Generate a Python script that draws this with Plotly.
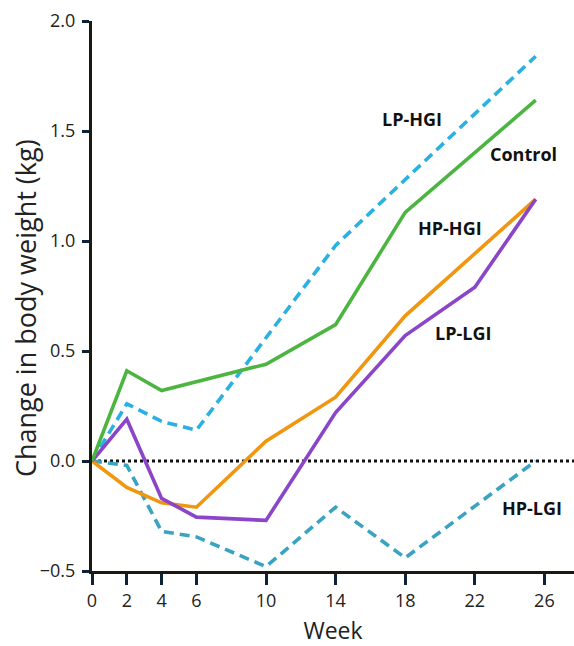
import plotly.graph_objects as go

# Weeks at which each group was weighed (last visit plotted at 25.5)
weeks_control = [0, 2, 4, 10, 14, 18, 25.5]
control = [0.0, 0.41, 0.32, 0.44, 0.62, 1.13, 1.64]

weeks_lp_hgi = [0, 2, 4, 6, 14, 25.5]
lp_hgi = [0.0, 0.26, 0.18, 0.14, 0.98, 1.84]

weeks_hp_hgi = [0, 2, 4, 6, 10, 14, 18, 25.5]
hp_hgi = [0.0, -0.12, -0.19, -0.21, 0.09, 0.29, 0.66, 1.19]

weeks_lp_lgi = [0, 2, 4, 6, 10, 14, 18, 22, 25.5]
lp_lgi = [0.0, 0.19, -0.17, -0.255, -0.27, 0.22, 0.57, 0.79, 1.19]

weeks_hp_lgi = [0, 2, 4, 6, 10, 14, 18, 25.5]
hp_lgi = [0.0, -0.02, -0.32, -0.345, -0.48, -0.21, -0.44, 0.0]

x_ticks = [0, 2, 4, 6, 10, 14, 18, 22, 26]
y_ticks = [-0.5, 0.0, 0.5, 1.0, 1.5, 2.0]
y_tick_text = ["\u22120.5", "0.0", "0.5", "1.0", "1.5", "2.0"]

# Group label text and anchor (week, kg)
labels = ["LP-HGI", "Control", "HP-HGI", "LP-LGI", "HP-LGI"]
label_x = [18.4, 24.8, 20.6, 21.3, 25.3]
label_y = [1.555, 1.395, 1.06, 0.58, -0.215]

FONT = "'Open Sans', sans-serif"

fig = go.Figure()

# zero reference line
fig.add_trace(go.Scatter(x=[0, 27.7], y=[0, 0], mode="lines",
                         line=dict(color="#111111", width=3, dash="dot"),
                         hoverinfo="skip", showlegend=False))

series = [
    (weeks_hp_lgi, hp_lgi, "#3aa3c2", "10px,6px", "HP-LGI"),
    (weeks_lp_hgi, lp_hgi, "#2bb0e3", "10px,6px", "LP-HGI"),
    (weeks_hp_hgi, hp_hgi, "#f0960f", "solid", "HP-HGI"),
    (weeks_lp_lgi, lp_lgi, "#8a45c8", "solid", "LP-LGI"),
    (weeks_control, control, "#4cb540", "solid", "Control"),
]
for xs, ys, color, dash, name in series:
    fig.add_trace(go.Scatter(x=xs, y=ys, mode="lines", name=name,
                             line=dict(color=color, width=3.6, dash=dash),
                             showlegend=False))

for txt, lx, ly in zip(labels, label_x, label_y):
    fig.add_annotation(x=lx, y=ly, text="<b>" + txt + "</b>", showarrow=False,
                       font=dict(family=FONT, size=18, color="#111111"),
                       xanchor="center", yanchor="middle")

# y-axis title, placed as rotated text beside the axis
fig.add_annotation(xref="paper", yref="paper", x=-0.139, y=0.478,
                   text="Change in body weight (kg)", textangle=-90, showarrow=False,
                   font=dict(family=FONT, size=27, color="#222222"),
                   xanchor="center", yanchor="middle")

fig.update_layout(
    width=574, height=646,
    margin=dict(l=92, r=0, t=21, b=75),
    paper_bgcolor="white", plot_bgcolor="white",
    font=dict(family=FONT, color="#222222"),
)
fig.update_xaxes(range=[0, 27.7], tickvals=x_ticks, ticktext=[str(v) for v in x_ticks],
                 showgrid=False, zeroline=False, showline=True, linecolor="#1a1a10",
                 linewidth=3, ticks="outside", ticklen=11, tickwidth=3, tickcolor="#0d2238",
                 tickfont=dict(size=18, family=FONT, color="#222222"),
                 title=dict(text="Week", font=dict(size=23, family=FONT, color="#222222"),
                            standoff=13))
fig.update_yaxes(range=[-0.5, 2.0], tickvals=y_ticks, ticktext=y_tick_text,
                 showgrid=False, zeroline=False, showline=True, linecolor="#1a1a10",
                 linewidth=3, ticks="outside", ticklen=7, tickwidth=3, tickcolor="#0d2238",
                 ticklabelstandoff=3,
                 tickfont=dict(size=18, family=FONT, color="#222222"))

fig.write_html("out.html")
